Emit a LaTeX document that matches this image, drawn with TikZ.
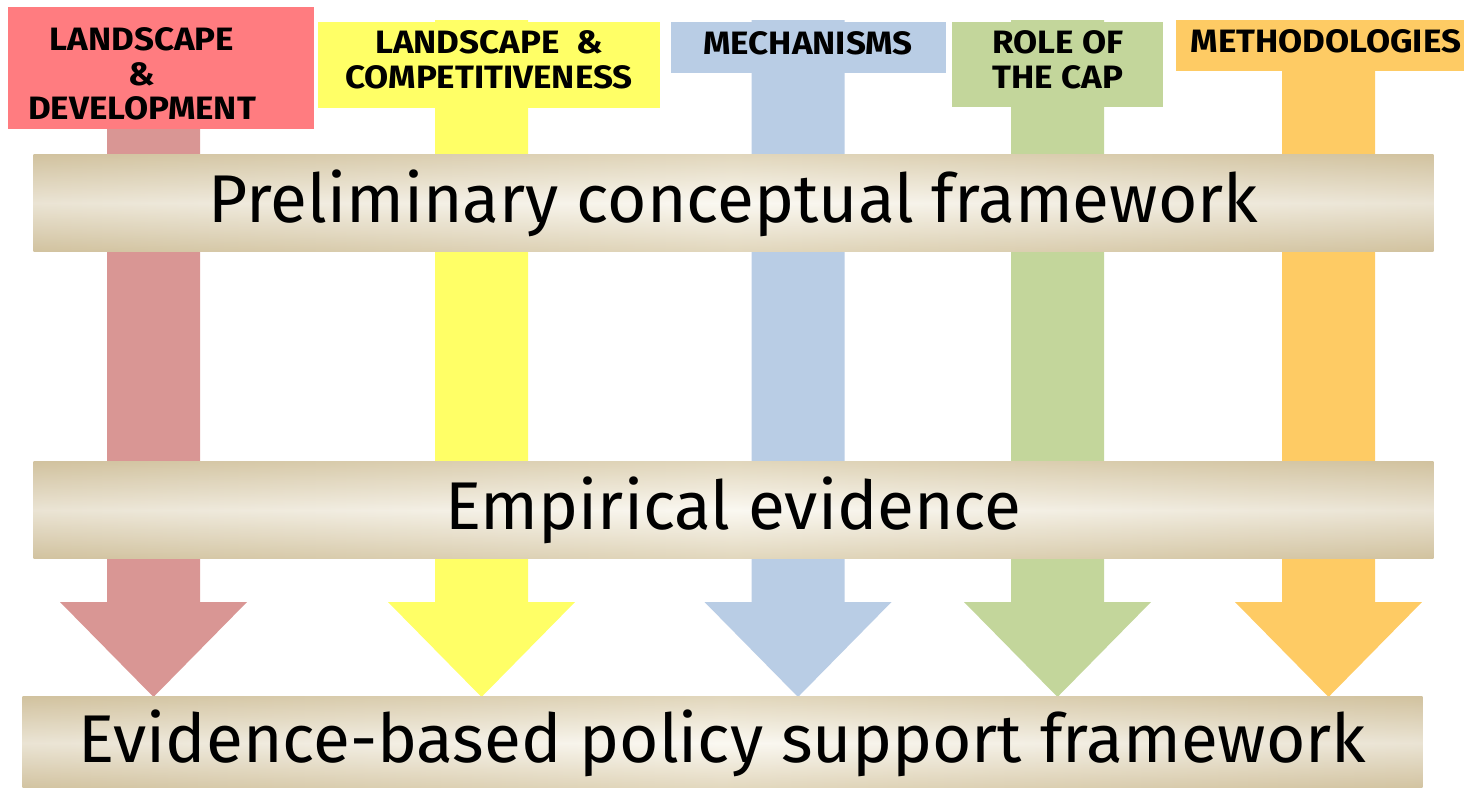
\documentclass[tikz,border=0pt]{standalone}
\usepackage{fontspec}
\setmainfont{Fira Sans}
\newfontfamily\headfont[FakeStretch=1.08]{Fira Sans}

\definecolor{redbox}{HTML}{FF7C80}
\definecolor{redarrow}{HTML}{D99694}
\definecolor{yellowbox}{HTML}{FFFF66}
\definecolor{bluebox}{HTML}{B9CDE5}
\definecolor{greenbox}{HTML}{C3D69B}
\definecolor{orangebox}{HTML}{FECB64}
\definecolor{bandtan}{HTML}{D2C3A0}
\definecolor{bandcream}{HTML}{F6F1E2}

\begin{document}
\begin{tikzpicture}[
				x=0.01cm, y=-0.01cm,
				headbox/.style={rectangle, inner sep=0pt},
				headtext/.style={align=center, inner sep=0pt,
						font=\headfont\fontsize{9.2}{9.8}\selectfont\bfseries},
				band/.style={rectangle, inner sep=0pt, minimum width=13.99cm,
						preaction={fill opacity=1, left color=bandtan, right color=bandtan, middle color=bandcream},
						top color=bandtan, bottom color=bandtan, middle color=white,
						fill opacity=0.55, text opacity=1,
						font=\fontsize{19.2}{23}\selectfont}
			]

			\useasboundingbox (0,0) rectangle (1464,787);

			\def \sw {46.5}
			\def \hw {93.5}

			% block arrows
			\foreach \n/\cx/\col in {1/153.5/redarrow, 2/481.5/yellowbox, 3/798/bluebox, 4/1057.5/greenbox, 5/1328.5/orangebox} {
					\coordinate (tip-\n) at (\cx, 697);
					\fill[\col] (\cx-\sw, 20) -- (\cx+\sw, 20) -- (\cx+\sw, 602) -- (\cx+\hw, 602)
						-- (tip-\n) -- (\cx-\hw, 602) -- (\cx-\sw, 602) -- cycle;
				}

			% headers
			\node[headbox, fill=redbox, minimum width=3.06cm, minimum height=1.22cm] (hd-1) at (161, 68) {};
			\node[headbox, fill=yellowbox, minimum width=3.42cm, minimum height=0.86cm] (hd-2) at (489, 65) {};
			\node[headbox, fill=bluebox, minimum width=2.75cm, minimum height=0.51cm] (hd-3) at (808.5, 47.5) {};
			\node[headbox, fill=greenbox, minimum width=2.11cm, minimum height=0.85cm] (hd-4) at (1057.5, 64.5) {};
			\node[headbox, fill=orangebox, minimum width=2.88cm, minimum height=0.51cm] (hd-5) at (1320, 45.5) {};

			\node[headtext] (tx-1) at (142, 74) {LANDSCAPE\\\&\\DEVELOPMENT};
			\node[headtext] (tx-2) at (489, 60) {LANDSCAPE~~\&\\COMPETITIVENESS};
			\node[headtext] (tx-3) at (808, 43) {MECHANISMS};
			\node[headtext] (tx-4) at (1058, 60) {ROLE OF\\THE CAP};
			\node[headtext] (tx-5) at (1326, 41) {METHODOLOGIES};

			% bands
			\node[band, minimum height=0.96cm] (prelim) at (733.5, 203) {Preliminary conceptual framework};
			\node[band, minimum height=0.96cm] (empir) at (733.5, 510) {Empirical evidence};
			\node[band, minimum height=0.92cm] (policy) at (722.5, 743) {Evidence-based policy support framework};

		\end{tikzpicture}
\end{document}
